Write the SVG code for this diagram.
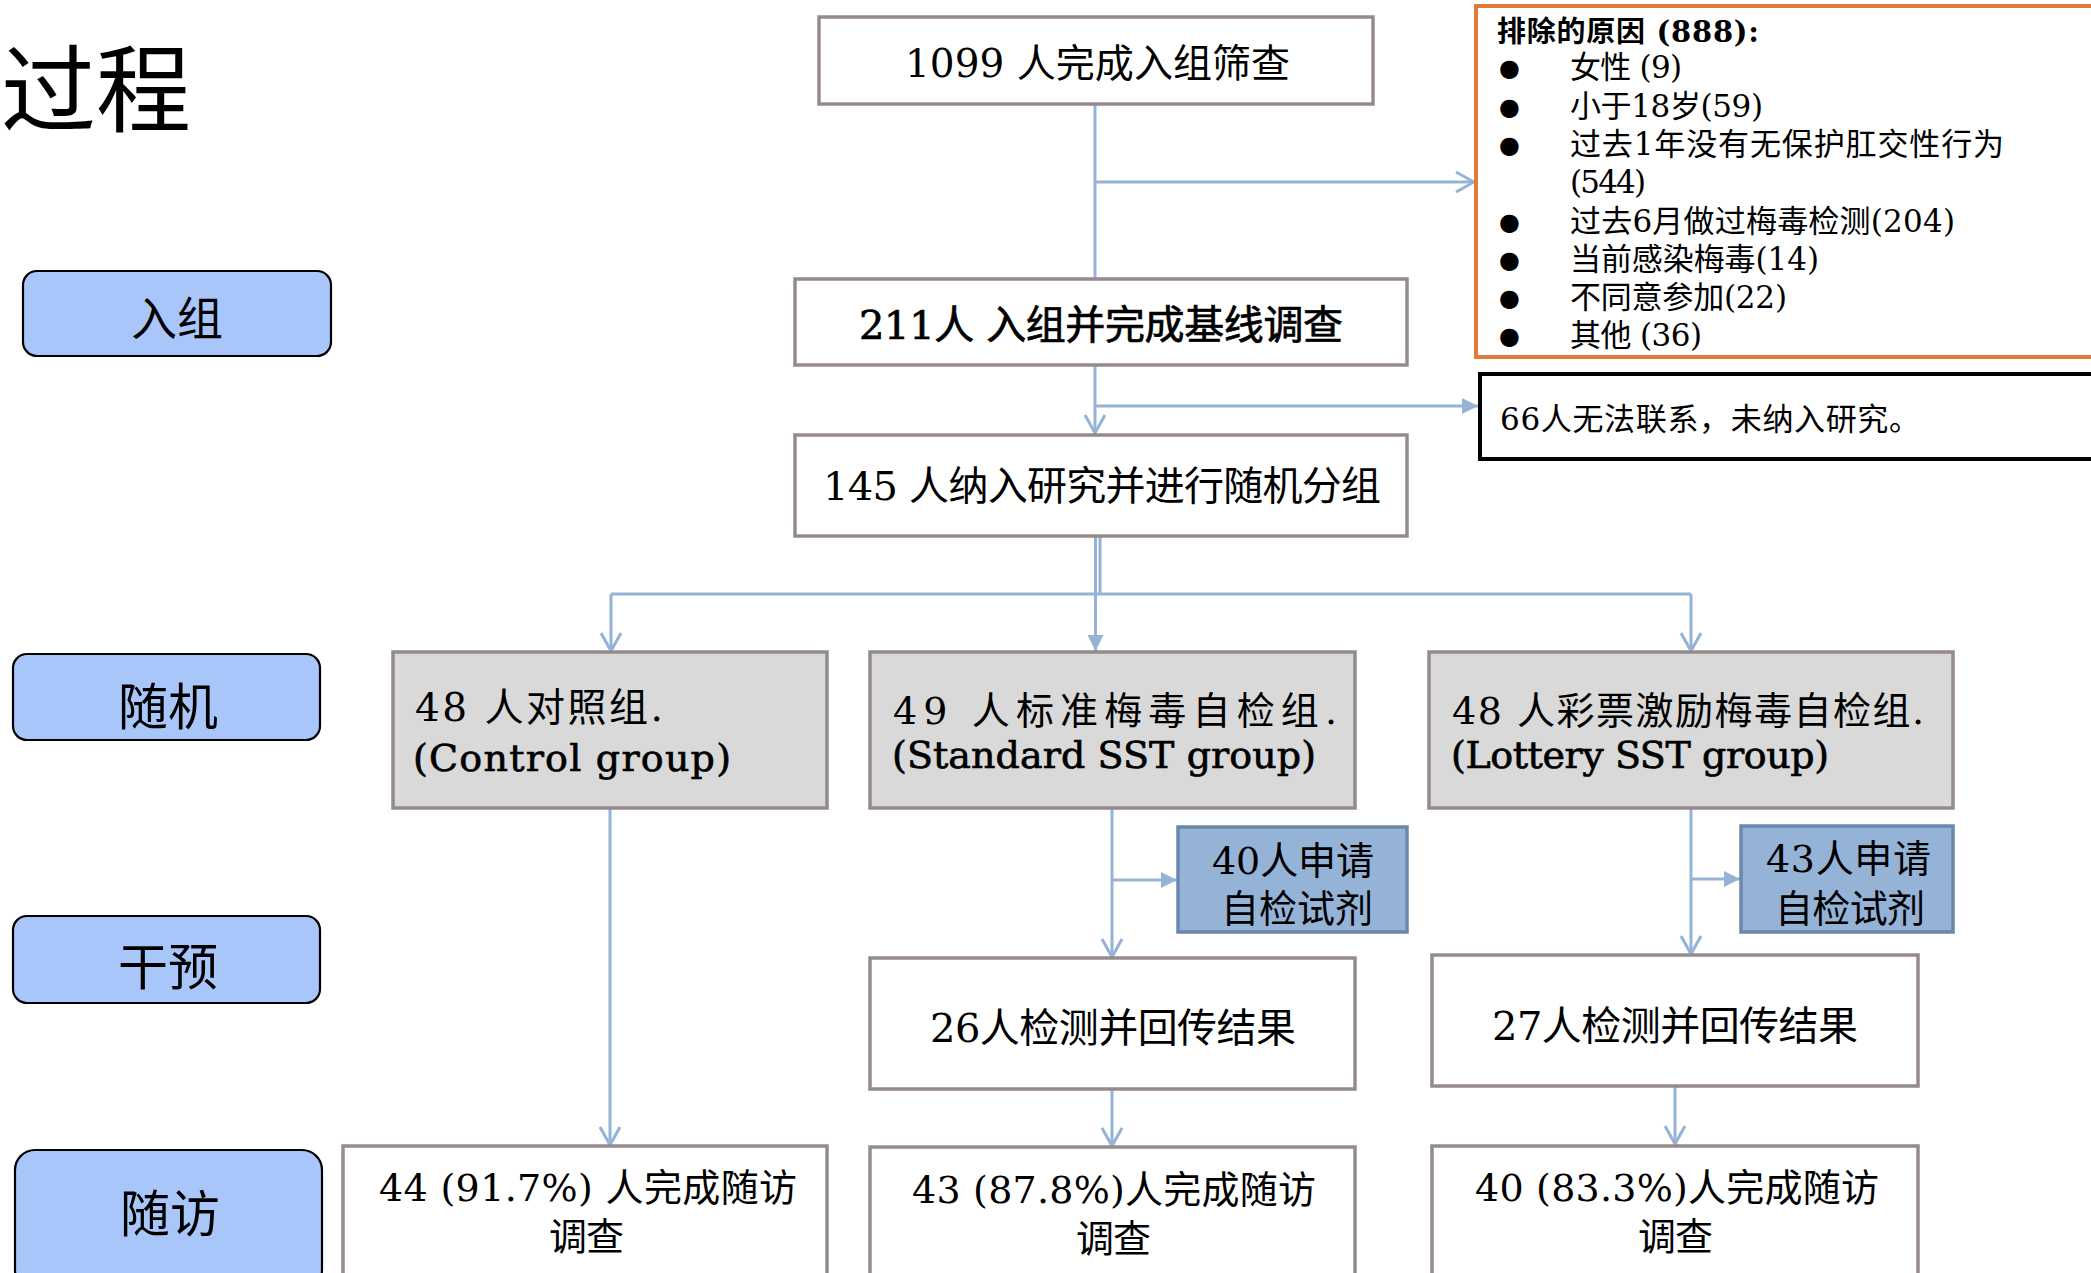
<svg xmlns="http://www.w3.org/2000/svg" width="2091" height="1273" viewBox="0 0 2091 1273">
<defs>
<style>
.t{font-family:"DejaVu Serif","Noto Sans CJK SC",serif;fill:#000}
.cjk{font-family:"Noto Sans CJK SC","DejaVu Sans",sans-serif;fill:#000}
.node{fill:#fff;stroke:#958B8B;stroke-width:3.5}
.grp{fill:#D9D9D9;stroke:#958B8B;stroke-width:3.5}
.req{fill:#95B3D7;stroke:#6A88A8;stroke-width:3.5}
.phase{fill:#A8C6FA;stroke:#000;stroke-width:2.2}
.conn{fill:none;stroke:#95B3D7;stroke-width:3}
.semi{stroke:#000;stroke-width:0.7}
</style>
<marker id="open" viewBox="0 0 22 24" refX="20" refY="12" markerWidth="22" markerHeight="24" markerUnits="userSpaceOnUse" orient="auto">
<path d="M2,2 L20,12 L2,22" fill="none" stroke="#95B3D7" stroke-width="3"/>
</marker>
<marker id="tri" viewBox="0 0 16 16" refX="16" refY="8" markerWidth="16" markerHeight="16" markerUnits="userSpaceOnUse" orient="auto">
<path d="M0,0 L16,8 L0,16 Z" fill="#95B3D7"/>
</marker>
</defs>
<rect width="2091" height="1273" fill="#fff"/>

<text class="cjk" x="191" y="125" font-size="95" text-anchor="end">过程</text>

<g id="phase-enroll"><rect class="phase" x="23" y="271" width="308" height="85" rx="14"/><text class="cjk" x="177" y="335" font-size="46" text-anchor="middle">入组</text></g>
<g id="phase-random"><rect class="phase" x="13" y="654" width="307" height="86" rx="14"/><text class="cjk" x="168" y="725" font-size="50" text-anchor="middle">随机</text></g>
<g id="phase-intervene"><rect class="phase" x="13" y="916" width="307" height="87" rx="14"/><text class="cjk" x="168" y="985" font-size="50" text-anchor="middle">干预</text></g>
<g id="phase-followup"><rect class="phase" x="15" y="1150" width="307" height="140" rx="20"/><text class="cjk" x="170" y="1232" font-size="50" text-anchor="middle">随访</text></g>

<g id="connectors">
<path class="conn" d="M1095,105 V278"/>
<path class="conn" d="M1095,182 H1474" marker-end="url(#open)"/>
<path class="conn" d="M1095,365 V433" marker-end="url(#open)"/>
<path class="conn" d="M1095,406 H1478" marker-end="url(#tri)"/>
<path class="conn" d="M1100,536 V594"/>
<path class="conn" d="M611,594 H1691"/>
<path class="conn" d="M611,594 V651" marker-end="url(#open)"/>
<path class="conn" d="M1095.5,536 V651" marker-end="url(#tri)"/>
<path class="conn" d="M1691,594 V651" marker-end="url(#open)"/>
<path class="conn" d="M610,808 V1145" marker-end="url(#open)"/>
<path class="conn" d="M1112,808 V957" marker-end="url(#open)"/>
<path class="conn" d="M1112,880 H1177" marker-end="url(#tri)"/>
<path class="conn" d="M1112,1089 V1146" marker-end="url(#open)"/>
<path class="conn" d="M1691,808 V954" marker-end="url(#open)"/>
<path class="conn" d="M1691,879 H1740" marker-end="url(#tri)"/>
<path class="conn" d="M1675,1086 V1144" marker-end="url(#open)"/>
</g>

<g id="n1099"><rect class="node" x="819" y="17" width="554" height="87"/><text class="t" x="905" y="77" font-size="39" textLength="385">1099 人完成入组筛查</text></g>
<g id="n211"><rect class="node" x="795" y="279" width="612" height="86"/><text class="t semi" x="859" y="339" font-size="40" textLength="484">211人 入组并完成基线调查</text></g>
<g id="n145"><rect class="node" x="795" y="435" width="612" height="101"/><text class="t" x="823" y="500" font-size="40" textLength="558">145 人纳入研究并进行随机分组</text></g>

<g id="exclusion">
<rect x="1476" y="6" width="640" height="351" fill="#fff" stroke="#E07B39" stroke-width="4"/>
<text class="t" x="1497" y="42" font-size="29" font-weight="bold" textLength="262">排除的原因 (888):</text>
<g class="t" font-size="24" font-family="DejaVu Sans">
<text x="1499" y="76">●</text><text x="1499" y="115">●</text><text x="1499" y="153">●</text><text x="1499" y="230">●</text><text x="1499" y="268">●</text><text x="1499" y="306">●</text><text x="1499" y="344">●</text>
</g>
<g class="t" font-size="31">
<text x="1570" y="78" textLength="112">女性 (9)</text>
<text x="1570" y="117" textLength="193">小于18岁(59)</text>
<text x="1570" y="155" textLength="434">过去1年没有无保护肛交性行为</text>
<text x="1570" y="193" textLength="76">(544)</text>
<text x="1570" y="232" textLength="385">过去6月做过梅毒检测(204)</text>
<text x="1570" y="270" textLength="249">当前感染梅毒(14)</text>
<text x="1570" y="308" textLength="217">不同意参加(22)</text>
<text x="1570" y="346" textLength="132">其他 (36)</text>
</g>
</g>

<g id="lost"><rect x="1480" y="374" width="640" height="85" fill="#fff" stroke="#000" stroke-width="4"/><text class="t" x="1500" y="430" font-size="31" textLength="420">66人无法联系，未纳入研究。</text></g>

<g id="control"><rect class="grp" x="393" y="652" width="434" height="156"/>
<text class="t" x="415" y="721" font-size="39" textLength="248">48 人对照组.</text>
<text class="t semi" x="413" y="771" font-size="38" textLength="318">(Control group)</text></g>
<g id="standard"><rect class="grp" x="870" y="652" width="485" height="156"/>
<text class="t" x="893" y="724" font-size="38" textLength="444">49  人标准梅毒自检组.</text>
<text class="t semi" x="892" y="768" font-size="38" textLength="424">(Standard SST group)</text></g>
<g id="lottery"><rect class="grp" x="1429" y="652" width="524" height="156"/>
<text class="t" x="1452" y="724" font-size="38" textLength="472">48 人彩票激励梅毒自检组.</text>
<text class="t semi" x="1451" y="768" font-size="38" textLength="378">(Lottery SST group)</text></g>

<g id="req40"><rect class="req" x="1178" y="827" width="229" height="105"/>
<text class="t" x="1212" y="874" font-size="38" textLength="162">40人申请</text>
<text class="t" x="1221" y="922" font-size="38" textLength="152">自检试剂</text></g>
<g id="req43"><rect class="req" x="1741" y="826" width="212" height="106"/>
<text class="t" x="1766" y="872" font-size="38" textLength="165">43人申请</text>
<text class="t" x="1775" y="922" font-size="38" textLength="150">自检试剂</text></g>

<g id="res26"><rect class="node" x="870" y="958" width="485" height="131"/><text class="t" x="930" y="1042" font-size="40" textLength="366">26人检测并回传结果</text></g>
<g id="res27"><rect class="node" x="1432" y="955" width="486" height="131"/><text class="t" x="1492" y="1040" font-size="40" textLength="366">27人检测并回传结果</text></g>

<g id="fu44"><rect class="node" x="343" y="1146" width="484" height="150"/>
<text class="t" x="379" y="1201" font-size="38" textLength="418">44 (91.7%) 人完成随访</text>
<text class="t" x="549" y="1250" font-size="38" textLength="75">调查</text></g>
<g id="fu43"><rect class="node" x="870" y="1147" width="485" height="150"/>
<text class="t" x="912" y="1203" font-size="38" textLength="404">43 (87.8%)人完成随访</text>
<text class="t" x="1076" y="1252" font-size="38" textLength="75">调查</text></g>
<g id="fu40"><rect class="node" x="1432" y="1146" width="486" height="150"/>
<text class="t" x="1475" y="1201" font-size="38" textLength="404">40 (83.3%)人完成随访</text>
<text class="t" x="1638" y="1250" font-size="38" textLength="75">调查</text></g>
</svg>
